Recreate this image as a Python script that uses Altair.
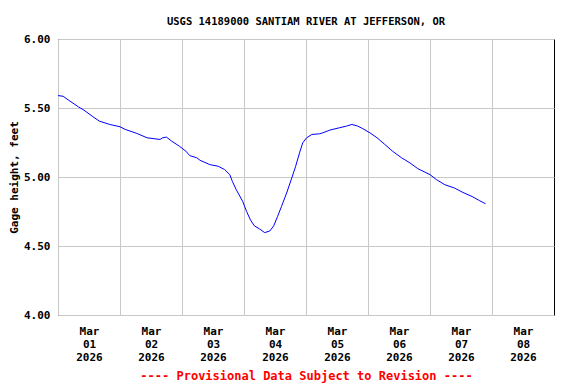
import altair as alt
import pandas as pd

times = [
    "2026-03-01T00:00", "2026-03-01T02:00", "2026-03-01T04:00", "2026-03-01T08:00",
    "2026-03-01T10:00", "2026-03-01T13:30", "2026-03-01T16:00", "2026-03-01T20:00",
    "2026-03-02T00:00", "2026-03-02T02:00", "2026-03-02T06:30", "2026-03-02T10:30",
    "2026-03-02T15:30", "2026-03-02T16:30", "2026-03-02T18:00", "2026-03-02T20:00",
    "2026-03-02T23:00", "2026-03-03T01:30", "2026-03-03T03:00", "2026-03-03T05:45",
    "2026-03-03T07:00", "2026-03-03T10:45", "2026-03-03T14:00", "2026-03-03T16:30",
    "2026-03-03T18:30", "2026-03-03T19:30", "2026-03-03T21:00", "2026-03-03T23:30",
    "2026-03-04T01:00", "2026-03-04T02:30", "2026-03-04T04:00", "2026-03-04T06:00",
    "2026-03-04T08:00", "2026-03-04T10:00", "2026-03-04T11:30", "2026-03-04T13:00",
    "2026-03-04T14:30", "2026-03-04T16:30", "2026-03-04T18:30", "2026-03-04T20:00",
    "2026-03-04T21:30", "2026-03-04T22:45", "2026-03-05T00:15", "2026-03-05T02:15",
    "2026-03-05T05:15", "2026-03-05T06:30", "2026-03-05T09:15", "2026-03-05T13:00",
    "2026-03-05T15:45", "2026-03-05T17:45", "2026-03-05T20:00", "2026-03-05T22:00",
    "2026-03-06T00:45", "2026-03-06T03:30", "2026-03-06T06:30", "2026-03-06T09:30",
    "2026-03-06T13:00", "2026-03-06T16:15", "2026-03-06T19:15", "2026-03-07T00:00",
    "2026-03-07T02:30", "2026-03-07T05:45", "2026-03-07T09:30", "2026-03-07T12:45",
    "2026-03-07T16:15", "2026-03-07T19:15", "2026-03-07T21:30",
]
gage_ft = [
    5.59, 5.585, 5.558, 5.507,
    5.485, 5.437, 5.405, 5.381,
    5.364, 5.345, 5.316, 5.284,
    5.272, 5.284, 5.289, 5.26,
    5.223, 5.187, 5.155, 5.139,
    5.121, 5.09, 5.078, 5.054,
    5.017, 4.968, 4.908, 4.823,
    4.75, 4.689, 4.646, 4.624,
    4.597, 4.609, 4.646, 4.714,
    4.786, 4.884, 4.993, 5.078,
    5.175, 5.248, 5.284, 5.308,
    5.313, 5.32, 5.34, 5.357,
    5.369, 5.381, 5.369, 5.35,
    5.32, 5.284, 5.236, 5.187,
    5.139, 5.102, 5.061, 5.017,
    4.981, 4.944, 4.92, 4.888,
    4.859, 4.828, 4.806,
]
y_ticks = [4.0, 4.5, 5.0, 5.5, 6.0]
day_ticks = [1, 2, 3, 4, 5, 6, 7, 8]

df = pd.DataFrame({"time": times, "gage": gage_ft})

FONT = "DejaVu Sans Mono"

x_axis = alt.Axis(
    values=[alt.DateTime(year=2026, month=3, date=d) for d in day_ticks],
    labelExpr="[timeFormat(datum.value, '%b'), timeFormat(datum.value, '%d'), timeFormat(datum.value, '%Y')]",
    labelOffset=31,
    labelLineHeight=13,
    labelBaseline="top",
    labelPadding=10,
    labelFont=FONT,
    labelFontSize=11,
    labelFontWeight="bold",
    labelColor="black",
    labelOverlap=False,
    labelFlush=False,
    labelBound=False,
    ticks=False,
    domain=False,
    grid=True,
    gridColor="#c8c8c8",
    gridWidth=1,
    title="---- Provisional Data Subject to Revision ----",
    titleColor="#ff0000",
    titleFont=FONT,
    titleFontSize=12,
    titleFontWeight="bold",
    titlePadding=8,
)

y_axis = alt.Axis(
    values=y_ticks,
    format=".2f",
    labelFont=FONT,
    labelFontSize=11,
    labelFontWeight="bold",
    labelColor="black",
    labelPadding=8,
    ticks=False,
    domain=False,
    grid=True,
    gridColor="#c8c8c8",
    gridWidth=1,
    title="Gage height, feet",
    titleFont=FONT,
    titleFontSize=11,
    titleFontWeight="bold",
    titleColor="black",
    titlePadding=4,
)

chart = (
    alt.Chart(df)
    .mark_line(color="#0000ff", strokeWidth=1)
    .encode(
        x=alt.X(
            "time:T",
            scale=alt.Scale(
                domain=[
                    alt.DateTime(year=2026, month=3, date=1),
                    alt.DateTime(year=2026, month=3, date=9),
                ]
            ),
            axis=x_axis,
        ),
        y=alt.Y("gage:Q", scale=alt.Scale(domain=[4.0, 6.0], nice=False, zero=False), axis=y_axis),
    )
    .properties(
        width=496,
        height=276,
        autosize=alt.AutoSizeParams(type="none"),
        padding={"left": 50, "top": 31, "right": 14, "bottom": 69},
        title=alt.TitleParams(
            "USGS 14189000 SANTIAM RIVER AT JEFFERSON, OR",
            font=FONT,
            fontSize=10.5,
            fontWeight="bold",
            color="black",
            anchor="middle",
            offset=6,
        ),
        background="white",
    )
    .configure_view(stroke="black", strokeWidth=1)
)

chart.save("out.html", embed_options={"renderer": "svg", "actions": False})
